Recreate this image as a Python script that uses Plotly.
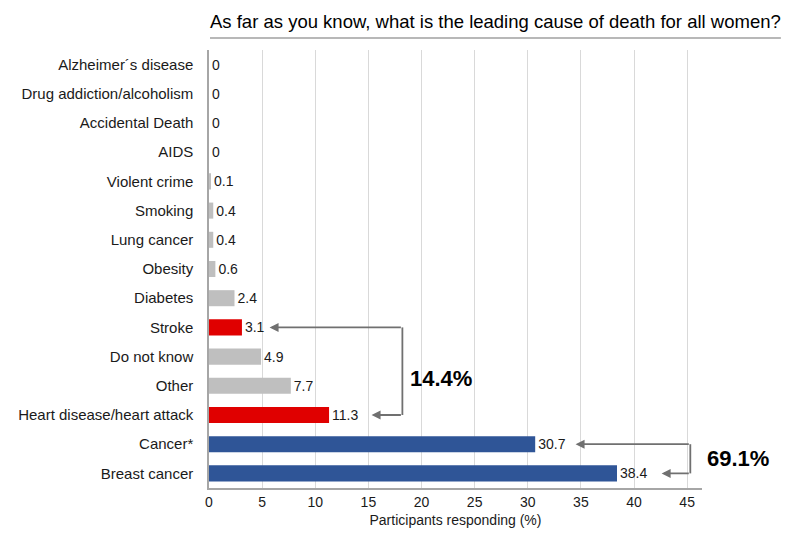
import plotly.graph_objects as go

categories = ["Alzheimer´s disease", "Drug addiction/alcoholism", "Accidental Death", "AIDS",
              "Violent crime", "Smoking", "Lung cancer", "Obesity", "Diabetes", "Stroke",
              "Do not know", "Other", "Heart disease/heart attack", "Cancer*", "Breast cancer"]
values = [0, 0, 0, 0, 0.1, 0.4, 0.4, 0.6, 2.4, 3.1, 4.9, 7.7, 11.3, 30.7, 38.4]
groups = ["other"] * 9 + ["heart", "other", "other", "heart", "cancer", "cancer"]
x_ticks = [0, 5, 10, 15, 20, 25, 30, 35, 40, 45]
heart_total = "14.4%"
cancer_total = "69.1%"

color_map = {"other": "#BFBFBF", "heart": "#E00000", "cancer": "#2F5597"}
FONT = "Liberation Sans, Arial, sans-serif"

fig = go.Figure()
fig.add_trace(go.Bar(
    y=categories, x=values, orientation="h",
    marker=dict(color=[color_map[g] for g in groups], line=dict(width=0)),
    width=0.55,
    text=[("%g" % v) for v in values], textposition="outside",
    textfont=dict(size=14, color="#1a1a1a", family=FONT),
    cliponaxis=False,
))

# brackets (data coords; y index: 0=top)
line_col = "#707070"
idx = {c: i for i, c in enumerate(categories)}
s, h = idx["Stroke"], idx["Heart disease/heart attack"]
c, b = idx["Cancer*"], idx["Breast cancer"]
fig.add_shape(type="line", x0=18.2, x1=18.2, y0=s, y1=h, xref="x", yref="y",
              line=dict(color=line_col, width=1.8))
fig.add_shape(type="line", x0=45.3, x1=45.3, y0=c, y1=b, xref="x", yref="y",
              line=dict(color=line_col, width=1.8))
for (xh, xt, yy) in [(5.7, 18.2, s), (15.3, 18.2, h), (34.5, 45.3, c), (42.6, 45.3, b)]:
    fig.add_annotation(x=xh, y=yy, ax=xt, ay=yy, xref="x", yref="y", axref="x", ayref="y",
                       showarrow=True, arrowhead=2, arrowsize=1, arrowwidth=1.8,
                       arrowcolor=line_col, text="")

fig.add_annotation(x=21.8, y=(s + h) / 2 + 0.25, xref="x", yref="y", text="<b>" + heart_total + "</b>",
                   showarrow=False, font=dict(size=22, color="#000000", family=FONT),
                   xanchor="center", yanchor="middle")
fig.add_annotation(x=(738 - 209) / 493, y=(c + b) / 2, xref="paper", yref="y",
                   text="<b>" + cancer_total + "</b>", showarrow=False,
                   font=dict(size=22, color="#000000", family=FONT),
                   xanchor="center", yanchor="middle")

# title underline
fig.add_shape(type="line", xref="paper", yref="paper", x0=0.002, x1=1.16,
              y0=(488 - 38) / 438, y1=(488 - 38) / 438, line=dict(color="#A0A0A0", width=1.5))

fig.update_layout(
    width=800, height=553,
    margin=dict(l=201, r=106, t=42, b=73),
    paper_bgcolor="white", plot_bgcolor="white",
    showlegend=False,
    font=dict(family=FONT, color="#1a1a1a", size=14),
    title=dict(text="As far as you know, what is the leading cause of death for all women?",
               x=202 / 800, xanchor="left", y=1 - 14 / 553, yanchor="middle",
               font=dict(size=18.5, color="#000000", family=FONT)),
    xaxis=dict(range=[0, 46.4], tickvals=x_ticks, showgrid=True, gridcolor="#D9D9D9", gridwidth=1,
               zeroline=False, showline=True, linecolor="#A6A6A6", linewidth=1.5,
               ticks="", tickfont=dict(size=14, color="#1a1a1a"), automargin=False,
               title=dict(text="Participants responding (%)", font=dict(size=14, color="#1a1a1a"),
                          standoff=7)),
    yaxis=dict(categoryorder="array", categoryarray=categories, autorange="reversed",
               showline=True, linecolor="#A6A6A6", linewidth=1.5, ticks="outside",
               ticklen=11, tickcolor="rgba(0,0,0,0)", showgrid=False, zeroline=False,
               automargin=False, tickfont=dict(size=15, color="#1a1a1a")),
)

fig.write_html("out.html")
